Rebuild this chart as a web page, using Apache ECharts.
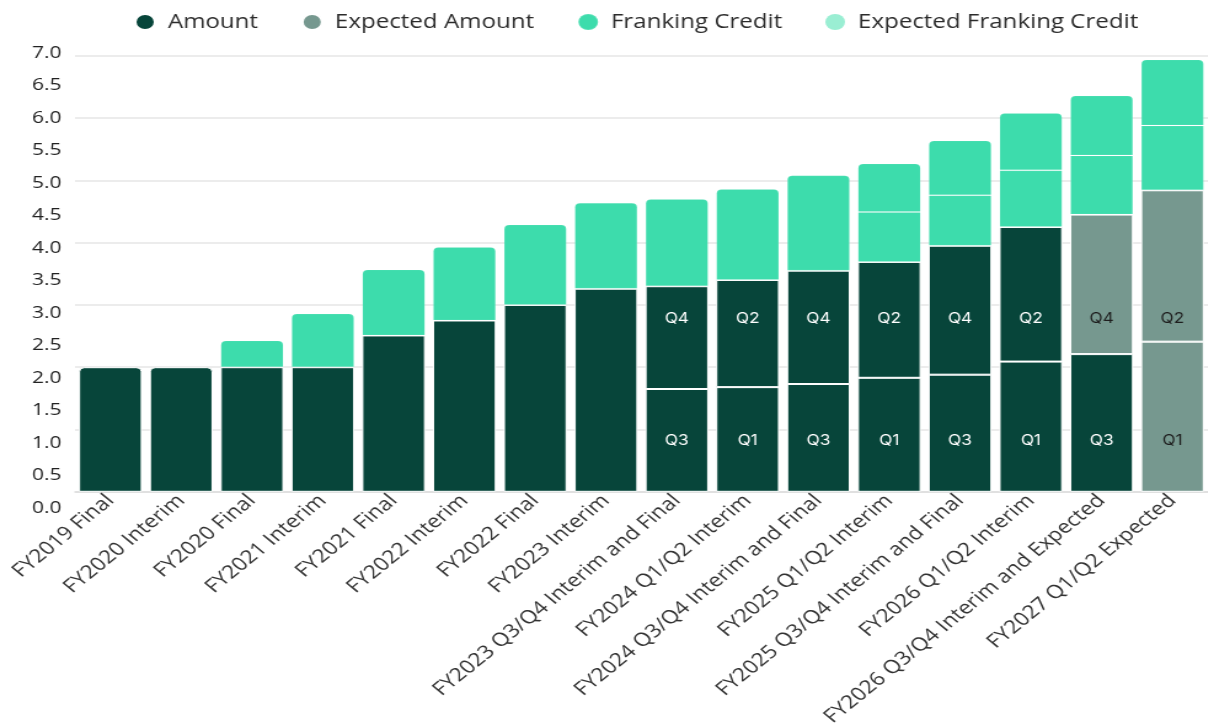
<!DOCTYPE html>
<html>
<head>
    <meta charset="utf-8">
    <title>Dividends</title>
    <script src="https://cdn.jsdelivr.net/npm/echarts@6/dist/echarts.min.js"></script>
    <style>
        body { margin: 0; overflow: hidden; background: #fff; }
        /* the reference is stretched sideways, so draw narrow and scale */
        #divChart { width: 982px; height: 725px; transform: scaleX(1.23); transform-origin: 0 0; }
    </style>
</head>
<body>

<div id="divChart"></div>

<script type="text/javascript">
    var categories = ['FY2019 Final', 'FY2020 Interim', 'FY2020 Final', 'FY2021 Interim', 'FY2021 Final',
        'FY2022 Interim', 'FY2022 Final', 'FY2023 Interim', 'FY2023 Q3/Q4 Interim and Final',
        'FY2024 Q1/Q2 Interim', 'FY2024 Q3/Q4 Interim and Final', 'FY2025 Q1/Q2 Interim',
        'FY2025 Q3/Q4 Interim and Final', 'FY2026 Q1/Q2 Interim', 'FY2026 Q3/Q4 Interim and Expected',
        'FY2027 Q1/Q2 Expected'];

    var amountFirst    = [2.00, 2.00, 2.00, 2.00, 2.51, 2.75, 3.00, 3.26, 1.65, 1.68, 1.73, 1.83, 1.88, 2.09, 2.21, null];
    var amountSecond   = [null, null, null, null, null, null, null, null, 1.65, 1.72, 1.82, 1.86, 2.07, 2.16, null, null];
    var expectedFirst  = [null, null, null, null, null, null, null, null, null, null, null, null, null, null, null, 2.41];
    var expectedSecond = [null, null, null, null, null, null, null, null, null, null, null, null, null, null, 2.24, 2.43];
    var frankingFirst  = [null, null, 0.43, 0.86, 1.06, 1.18, 1.29, 1.38, 1.40, 1.46, 1.53, 0.80, 0.81, 0.91, 0.95, 1.04];
    var frankingSecond = [null, null, null, null, null, null, null, null, null, null, null, 0.78, 0.88, 0.92, 0.96, 1.06];
    var expectedFranking = [];

    var firstLabels  = [null, null, null, null, null, null, null, null, 'Q3', 'Q1', 'Q3', 'Q1', 'Q3', 'Q1', 'Q3', 'Q1'];
    var secondLabels = [null, null, null, null, null, null, null, null, 'Q4', 'Q2', 'Q4', 'Q2', 'Q4', 'Q2', 'Q4', 'Q2'];

    var yTicks = [0, 7, 0.5];   // min, max, step

    // where the quarter labels sit (axis units), same height in every bar
    var labelLevel = [0.815, 2.775];

    var colAmount = '#07453a', colExpected = '#76988f', colFranking = '#3ddcac', colExpFranking = '#9aeed3';

    var stackOrder = [amountFirst, amountSecond, expectedFirst, expectedSecond, frankingFirst, frankingSecond];
    var stackLabels = [firstLabels, secondLabels, firstLabels, secondLabels, null, null];
    var stackLabelCol = ['#fff', '#fff', '#1e1e1e', '#1e1e1e', null, null];

    var myChart = echarts.init(document.getElementById('divChart'));

    function topOf(i) {
        var top = -1;
        for (var k = 0; k < stackOrder.length; k++) {
            if (stackOrder[k][i] != null) top = k;
        }
        return top;
    }
    function baseOf(k, i) {
        var s = 0;
        for (var j = 0; j < k; j++) s += stackOrder[j][i] || 0;
        return s;
    }

    function buildData(k, px) {
        var vals = stackOrder[k], labs = stackLabels[k];
        return vals.map(function (v, i) {
            if (v == null) return null;
            var item = {value: v};
            if (topOf(i) === k) item.itemStyle = {borderRadius: [4, 4, 0, 0]};
            if (labs && labs[i]) {
                var level = (k % 2 === 0) ? labelLevel[0] : labelLevel[1];
                var off = 0;
                if (px) {
                    var b = baseOf(k, i);
                    var mid = (px(b) + px(b + v)) / 2;
                    off = px(level) - mid;
                }
                item.label = {show: true, formatter: labs[i], color: stackLabelCol[k], offset: [0, off]};
            }
            return item;
        });
    }

    function makeSeries(px) {
        var names = ['Amount', 'Amount', 'Expected Amount', 'Expected Amount', 'Franking Credit', 'Franking Credit'];
        var colors = [colAmount, colAmount, colExpected, colExpected, colFranking, colFranking];
        var list = [];
        for (var k = 0; k < stackOrder.length; k++) {
            list.push({
                name: names[k],
                type: 'bar',
                stack: 'total',
                barCategoryGap: '11%',
                itemStyle: {
                    color: colors[k],
                    borderColor: k < 4 ? '#ffffff' : 'rgba(255,255,255,0.1)',
                    borderWidth: 1
                },
                label: {position: 'inside', fontFamily: 'Inter', fontSize: 14},
                data: buildData(k, px)
            });
        }
        list.push({
            name: 'Expected Franking Credit',
            type: 'bar',
            stack: 'total',
            itemStyle: {color: colExpFranking},
            data: expectedFranking
        });
        return list;
    }

    myChart.setOption({
        animation: false,
        legend: {
            left: 109,
            top: 12,
            padding: 0,
            itemGap: 35,
            itemWidth: 19,
            itemHeight: 16,
            symbolKeepAspect: false,
            icon: 'circle',
            data: ['Amount', 'Expected Amount', 'Franking Credit', 'Expected Franking Credit'],
            textStyle: {fontFamily: 'Open Sans', fontSize: 19.6, color: '#2b2b2b', padding: [0, 0, 0, 4]}
        },
        grid: [
            {left: 61, right: 0, top: 55.7, bottom: 233.2, outerBoundsMode: 'none'},
            // tick labels are spread a bit wider than the grid lines
            {left: 61, right: 0, top: 52.7, bottom: 217, outerBoundsMode: 'none'}
        ],
        xAxis: [{
            type: 'category',
            data: categories,
            gridIndex: 0,
            axisTick: {show: false},
            axisLine: {lineStyle: {color: '#dcdcdc', width: 1.5}},
            axisLabel: {
                interval: 0,
                rotate: 45,
                margin: 6,
                fontFamily: 'Open Sans',
                fontSize: 18.6,
                color: '#333'
            }
        }, {
            type: 'category',
            data: categories,
            gridIndex: 1,
            show: false
        }],
        yAxis: [{
            type: 'value',
            gridIndex: 0,
            min: 0,
            max: 7,
            interval: 1,
            axisLabel: {show: false},
            splitLine: {lineStyle: {color: '#e6e6e6', width: 1.5}}
        }, {
            type: 'value',
            gridIndex: 1,
            min: yTicks[0],
            max: yTicks[1],
            interval: yTicks[2],
            splitLine: {show: false},
            axisLabel: {
                margin: 11,
                fontFamily: 'Open Sans',
                fontSize: 17,
                color: '#222',
                formatter: function (v) { return v.toFixed(1); }
            }
        }],
        series: makeSeries(null)
    });

    var toPx = function (v) { return myChart.convertToPixel({yAxisIndex: 0}, v); };
    myChart.setOption({series: makeSeries(toPx)});
</script>
</body>
</html>
